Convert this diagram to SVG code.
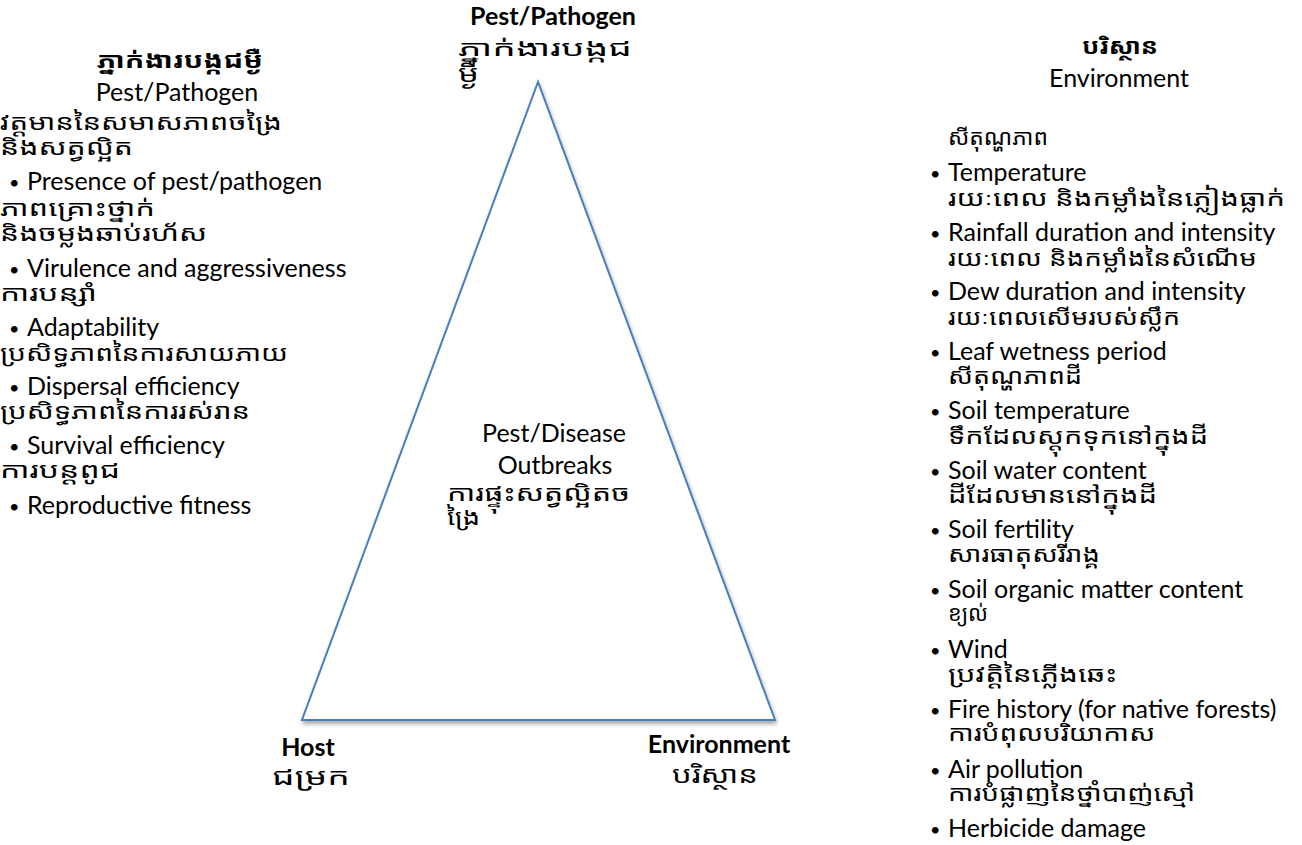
<svg xmlns="http://www.w3.org/2000/svg" width="1302" height="845" viewBox="0 0 1302 845">
<style>
text{font-family:Lato,"Noto Sans","Noto Sans Khmer",sans-serif;fill:#000;font-size:25px}
.b{font-weight:bold}
.c{text-anchor:middle}
.k{font-size:22px}
.kl{font-size:24px}
.d{font-size:18px}
</style>
<defs>
<filter id="sh" x="-10%" y="-10%" width="120%" height="120%">
<feGaussianBlur in="SourceAlpha" stdDeviation="2"/>
<feOffset dx="1" dy="3" result="o"/>
<feComponentTransfer><feFuncA type="linear" slope="0.35"/></feComponentTransfer>
<feMerge><feMergeNode/><feMergeNode in="SourceGraphic"/></feMerge>
</filter>
</defs>
<rect width="1302" height="845" fill="#fff"/>
<g id="connectors">
<polygon id="triangle" points="538,82 302,720 775,720" fill="#fff" stroke="#4a7ebb" stroke-width="2" filter="url(#sh)"/>
</g>
<g id="apex-pest">
<text class="b c" x="553" y="25">Pest/Pathogen</text>
<text class="k" x="458" y="56" textLength="174" lengthAdjust="spacingAndGlyphs">ភ្នាក់ងារបង្កជ</text>
<text class="kl" x="458" y="82" textLength="21" lengthAdjust="spacingAndGlyphs">ម្ងឺ</text>
</g>
<g id="center">
<text class="c" x="554" y="442">Pest/Disease</text>
<text class="c" x="555" y="474">Outbreaks</text>
<text class="k" x="447" y="501" textLength="183" lengthAdjust="spacingAndGlyphs">ការផ្ទុះសត្វល្អិតច</text>
<text class="k" x="447" y="525" textLength="33" lengthAdjust="spacingAndGlyphs">ង្រៃ</text>
</g>
<g id="host">
<text class="b c" x="308" y="756">Host</text>
<text class="kl" x="272" y="785" textLength="78" lengthAdjust="spacingAndGlyphs">ជម្រក</text>
</g>
<g id="environment">
<text class="b c" x="719" y="753">Environment</text>
<text class="kl" x="672" y="783" textLength="86" lengthAdjust="spacingAndGlyphs">បរិស្ថាន</text>
</g>
<g id="left-list">
<text class="b k" x="97" y="68" textLength="166" lengthAdjust="spacingAndGlyphs">ភ្នាក់ងារបង្កជម្ងឺ</text>
<text class="c" x="177" y="101">Pest/Pathogen</text>
<text class="k" x="0" y="130" textLength="282" lengthAdjust="spacingAndGlyphs">វត្តមាននៃសមាសភាពចង្រៃ</text>
<text class="k" x="0" y="155" textLength="133" lengthAdjust="spacingAndGlyphs">និងសត្វល្អិត</text>
<text class="d" x="9" y="189">•</text><text x="27" y="190">Presence of pest/pathogen</text>
<text class="k" x="0" y="216" textLength="155" lengthAdjust="spacingAndGlyphs">ភាពគ្រោះថ្នាក់</text>
<text class="k" x="0" y="241" textLength="207" lengthAdjust="spacingAndGlyphs">និងចម្លងឆាប់រហ័ស</text>
<text class="d" x="9" y="276">•</text><text x="27" y="277">Virulence and aggressiveness</text>
<text class="k" x="0" y="301" textLength="97" lengthAdjust="spacingAndGlyphs">ការបន្សាំ</text>
<text class="d" x="9" y="335">•</text><text x="27" y="336">Adaptability</text>
<text class="k" x="0" y="361" textLength="288" lengthAdjust="spacingAndGlyphs">ប្រសិទ្ធភាពនៃការសាយភាយ</text>
<text class="d" x="9" y="394">•</text><text x="27" y="395">Dispersal efficiency</text>
<text class="k" x="0" y="419" textLength="250" lengthAdjust="spacingAndGlyphs">ប្រសិទ្ធភាពនៃការរស់រាន</text>
<text class="d" x="9" y="453">•</text><text x="27" y="454">Survival efficiency</text>
<text class="k" x="0" y="478" textLength="120" lengthAdjust="spacingAndGlyphs">ការបន្តពូជ</text>
<text class="d" x="9" y="513">•</text><text x="27" y="514">Reproductive fitness</text>
</g>
<g id="right-list">
<text class="b k" x="1082" y="54" textLength="76" lengthAdjust="spacingAndGlyphs">បរិស្ថាន</text>
<text class="c" x="1119" y="87">Environment</text>
<text class="k" x="948" y="145" textLength="100" lengthAdjust="spacingAndGlyphs">សីតុណ្ហភាព</text>
<text class="d" x="930" y="180">•</text><text x="948" y="181">Temperature</text>
<text class="k" x="948" y="206" textLength="337" lengthAdjust="spacingAndGlyphs">រយៈពេល និងកម្លាំងនៃភ្លៀងធ្លាក់</text>
<text class="d" x="930" y="240">•</text><text x="948" y="241">Rainfall duration and intensity</text>
<text class="k" x="948" y="266" textLength="309" lengthAdjust="spacingAndGlyphs">រយៈពេល និងកម្លាំងនៃសំណើម</text>
<text class="d" x="930" y="299">•</text><text x="948" y="300">Dew duration and intensity</text>
<text class="k" x="948" y="325" textLength="232" lengthAdjust="spacingAndGlyphs">រយៈពេលសើមរបស់ស្លឹក</text>
<text class="d" x="930" y="359">•</text><text x="948" y="360">Leaf wetness period</text>
<text class="k" x="948" y="384" textLength="134" lengthAdjust="spacingAndGlyphs">សីតុណ្ហភាពដី</text>
<text class="d" x="930" y="418">•</text><text x="948" y="419">Soil temperature</text>
<text class="k" x="948" y="444" textLength="260" lengthAdjust="spacingAndGlyphs">ទឹកដែលស្តុកទុកនៅក្នុងដី</text>
<text class="d" x="930" y="478">•</text><text x="948" y="479">Soil water content</text>
<text class="k" x="948" y="503" textLength="209" lengthAdjust="spacingAndGlyphs">ដីដែលមាននៅក្នុងដី</text>
<text class="d" x="930" y="537">•</text><text x="948" y="538">Soil fertility</text>
<text class="k" x="948" y="562" textLength="152" lengthAdjust="spacingAndGlyphs">សារធាតុសរីរាង្គ</text>
<text class="d" x="930" y="597">•</text><text x="948" y="598">Soil organic matter content</text>
<text class="k" x="948" y="621" textLength="40" lengthAdjust="spacingAndGlyphs">ខ្យល់</text>
<text class="d" x="930" y="657">•</text><text x="948" y="658">Wind</text>
<text class="k" x="948" y="682" textLength="169" lengthAdjust="spacingAndGlyphs">ប្រវត្តិនៃភ្លើងឆេះ</text>
<text class="d" x="930" y="717">•</text><text x="948" y="718">Fire history (for native forests)</text>
<text class="k" x="948" y="741" textLength="207" lengthAdjust="spacingAndGlyphs">ការបំពុលបរិយាកាស</text>
<text class="d" x="930" y="777">•</text><text x="948" y="778">Air pollution</text>
<text class="k" x="948" y="801" textLength="247" lengthAdjust="spacingAndGlyphs">ការបំផ្លាញនៃថ្នាំបាញ់ស្មៅ</text>
<text class="d" x="930" y="836">•</text><text x="948" y="837">Herbicide damage</text>
</g>
</svg>
